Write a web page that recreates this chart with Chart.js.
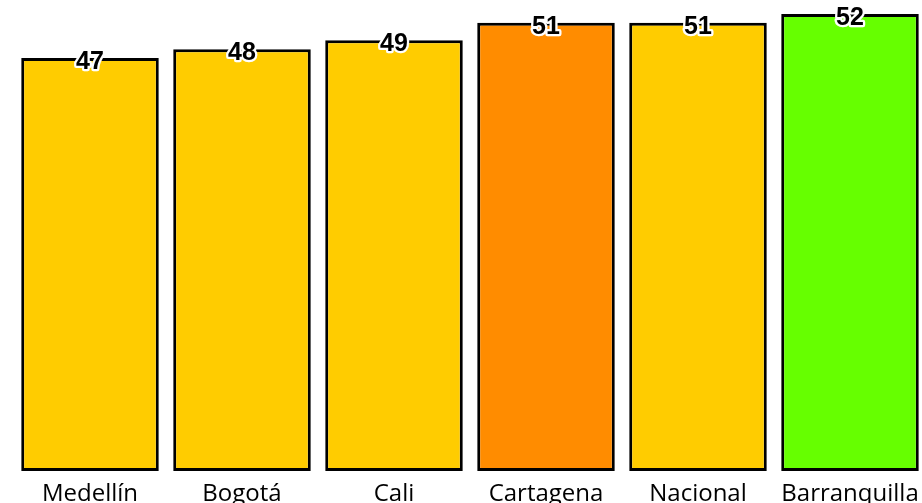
<!DOCTYPE html>
<html><head><meta charset="utf-8">
<script src="https://cdn.jsdelivr.net/npm/chart.js@4"></script>
<style>html,body{margin:0;padding:0;background:#fff;overflow:hidden;width:922px;height:503px}
#wrap{width:932px;height:503px;position:relative}</style>
</head><body><div id="wrap"><canvas id="c" width="932" height="503"></canvas></div>
<script>
const categories = ["Medellín","Bogotá","Cali","Cartagena","Nacional","Barranquilla"];
const values = [47,48,49,51,51,52];
const barColors = ["#FFCC00","#FFCC00","#FFCC00","#FF8C00","#FFCC00","#66FF00"];

const labelPlugin = {
  id:'valueLabels',
  afterDatasetsDraw(chart){
    const ctx = chart.ctx;
    const meta = chart.getDatasetMeta(0);
    ctx.save();
    ctx.font = 'bold 25px "Liberation Sans", Arial, sans-serif';
    ctx.textAlign = 'center';
    ctx.textBaseline = 'middle';
    ctx.lineJoin = 'round';
    meta.data.forEach((el,i)=>{
      const t = String(values[i]);
      const y = el.y + 4;
      ctx.lineWidth = 4.5;
      ctx.strokeStyle = '#fff';
      ctx.strokeText(t, el.x, y);
      ctx.fillStyle = '#000';
      ctx.fillText(t, el.x, y);
    });
    ctx.restore();
  }
};

new Chart(document.getElementById('c'), {
  type:'bar',
  data:{labels:categories,datasets:[{data:values,backgroundColor:barColors,borderColor:'#000',borderWidth:3,borderSkipped:false,categoryPercentage:1,barPercentage:0.905}]},
  options:{
    responsive:false,animation:false,
    layout:{padding:{left:14,right:6,top:14,bottom:0}},
    plugins:{legend:{display:false},tooltip:{enabled:false}},
    scales:{
      x:{grid:{display:false,drawTicks:false},border:{display:false},
         afterFit(s){ s.height = 32; },
         ticks:{color:'#000',padding:9,maxRotation:0,autoSkip:false,font:{family:'"Open Sans", sans-serif',size:24,lineHeight:1.2}}},
      y:{display:false,min:0,max:52}
    }
  },
  plugins:[labelPlugin]
});
</script></body></html>
